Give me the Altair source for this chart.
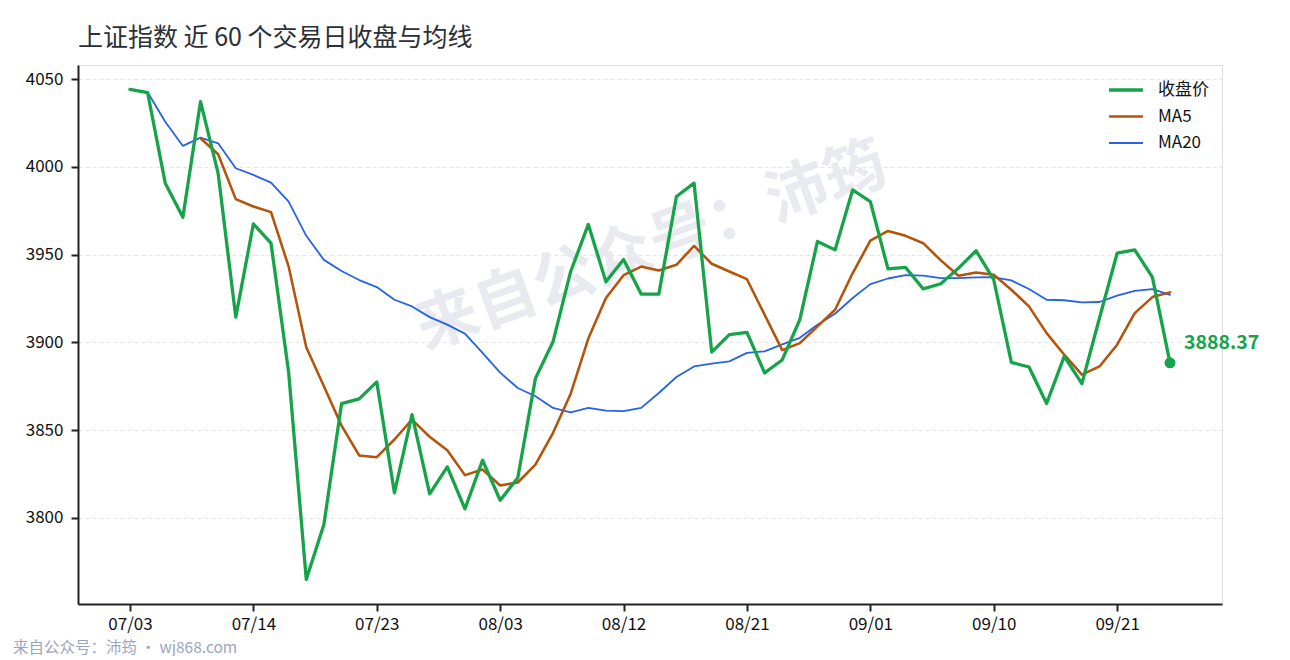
import altair as alt
import pandas as pd

# ---- data ----
tick_labels = ["07/03", "07/14", "07/23", "08/03", "08/12", "08/21", "09/01", "09/10", "09/21"]

close = [4044.1, 4042.2, 3990.7, 3971.3, 4037.1, 3996.3, 3914.4, 3967.5, 3956.5, 3883.0,
         3765.0, 3796.3, 3865.1, 3867.8, 3877.5, 3814.3, 3858.9, 3813.7, 3829.1, 3805.2,
         3832.9, 3810.1, 3822.9, 3879.5, 3900.4, 3940.4, 3967.2, 3934.5, 3947.2, 3927.5,
         3927.5, 3983.1, 3990.7, 3894.5, 3904.4, 3905.7, 3882.6, 3890.0, 3913.0, 3957.5,
         3952.7, 3986.9, 3980.2, 3941.9, 3942.7, 3930.5, 3933.4, 3942.3, 3952.2, 3935.7,
         3888.6, 3886.0, 3865.2, 3892.0, 3876.5, 3913.9, 3950.8, 3952.7, 3937.2, 3888.37]

ma5 = [None, None, None, None, 4016.3, 4007.2, 3981.6, 3977.4, 3974.2, 3943.2,
       3897.2, 3875.0, 3852.6, 3835.6, 3834.6, 3844.7, 3856.0, 3846.2, 3838.6, 3824.4,
       3827.6, 3818.5, 3820.2, 3830.4, 3848.5, 3870.8, 3902.2, 3925.3, 3938.3, 3943.2,
       3941.0, 3944.2, 3955.0, 3944.8, 3940.4, 3936.0, 3915.8, 3895.6, 3899.6, 3909.1,
       3918.6, 3939.5, 3958.0, 3963.5, 3960.7, 3956.5, 3946.7, 3938.0, 3939.8, 3938.5,
       3930.0, 3920.5, 3905.3, 3893.0, 3881.6, 3886.3, 3898.7, 3916.7, 3925.8, 3928.5]

ma20 = [4044.0, 4042.5, 4025.7, 4011.9, 4016.6, 4013.4, 3999.2, 3995.4, 3991.0, 3980.2,
        3960.7, 3947.0, 3940.7, 3935.5, 3931.5, 3924.3, 3920.5, 3914.4, 3910.1, 3905.0,
        3894.0, 3882.8, 3874.0, 3869.3, 3862.7, 3860.2, 3862.7, 3861.1, 3860.8, 3862.7,
        3871.2, 3880.3, 3886.3, 3887.9, 3889.2, 3894.0, 3894.9, 3898.9, 3902.6, 3910.1,
        3916.3, 3925.3, 3933.2, 3936.4, 3938.3, 3938.0, 3936.6, 3936.6, 3937.0, 3937.1,
        3935.3, 3930.4, 3924.3, 3924.0, 3922.8, 3923.0, 3926.6, 3929.4, 3930.4, 3927.1]

y_ticks = [3800, 3850, 3900, 3950, 4000, 4050]

series_names = ["收盘价", "MA5", "MA20"]
series_colors = ["#16a34a", "#b45309", "#2563eb"]
series_widths = [3.3, 1.8, 1.8]

n = len(close)
idx = list(range(n))
df = pd.DataFrame({
    "idx": idx * 3,
    "series": [series_names[0]] * n + [series_names[1]] * n + [series_names[2]] * n,
    "value": close + ma5 + ma20,
}).dropna()

last_df = pd.DataFrame({"idx": [idx[-1]], "value": [close[-1]], "label": [f"{close[-1]:.2f}"]})

FONT = "Noto Sans CJK SC"
label_expr = "[" + ",".join(f"'{t}'" for t in tick_labels) + "][round(datum.value/7)]"

x_enc = alt.X("idx:Q",
              scale=alt.Scale(domain=[-2.95, 61.95], nice=False, zero=False),
              axis=alt.Axis(values=[i * 7 for i in range(len(tick_labels))],
                            labelExpr=label_expr, title=None, grid=False,
                            labelFontSize=17, labelColor="#111", labelPadding=5,
                            labelFont=FONT,
                            tickSize=7, tickWidth=2, tickColor="#222",
                            domainColor="#222", domainWidth=2))
y_enc = alt.Y("value:Q",
              scale=alt.Scale(domain=[3751, 4058], nice=False, zero=False),
              axis=alt.Axis(values=y_ticks, format="d", title=None,
                            grid=True, gridColor="#dddddd", gridDash=[4, 3], gridWidth=0.8,
                            labelFontSize=17, labelColor="#111", labelPadding=8,
                            labelFont=FONT,
                            tickSize=7, tickWidth=2, tickColor="#222",
                            domainColor="#222", domainWidth=2))

color_scale = alt.Scale(domain=series_names, range=series_colors)
width_scale = alt.Scale(domain=series_names, range=series_widths)


def make_legend():
    return alt.Legend(title=None, orient="none", legendX=1029, legendY=6,
                      symbolType="stroke", symbolSize=1156, rowPadding=0,
                      labelFontSize=17, labelFont=FONT, labelColor="#111",
                      labelOffset=13)


base = alt.Chart(df)


def line_layer(name):
    return base.transform_filter(alt.datum.series == name).mark_line(
        strokeJoin="round", strokeCap="round").encode(
        x=x_enc, y=y_enc,
        color=alt.Color("series:N", scale=color_scale, legend=make_legend()),
        strokeWidth=alt.StrokeWidth("series:N", scale=width_scale, legend=make_legend()),
    )


watermark = alt.Chart(pd.DataFrame({"t": ["来自公众号：沛筠"]})).mark_text(
    font=FONT, fontSize=62, fontWeight="bold", color="#e8eaef", angle=340,
    align="center", baseline="middle").encode(
    text="t:N", x=alt.value(574), y=alt.value(182))

footer = alt.Chart(pd.DataFrame({"t": ["来自公众号：沛筠 · wj868.com"]})).mark_text(
    font=FONT, fontSize=15.5, color="#9aa6bd", align="left", baseline="middle").encode(
    text="t:N", x=alt.value(-65), y=alt.value(583))

dot = alt.Chart(last_df).mark_point(filled=True, size=120, color="#16a34a", opacity=1).encode(
    x=x_enc, y=y_enc)

label = alt.Chart(last_df).mark_text(
    font=FONT, fontSize=19.5, fontWeight="bold", color="#16a34a",
    align="left", baseline="middle", dx=14, dy=-20).encode(
    x=x_enc, y=y_enc, text="label:N")

chart = alt.layer(
    watermark,
    line_layer("MA20"), line_layer("MA5"), line_layer("收盘价"),
    dot, label, footer,
).properties(
    width=1144, height=539,
    title=alt.TitleParams("上证指数 近 60 个交易日收盘与均线", anchor="start", frame="group",
                          font=FONT, fontSize=25, fontWeight="normal",
                          color="#2b2f36", offset=14),
    autosize=alt.AutoSizeParams(type="none"),
    padding={"left": 70, "top": 57, "right": 60, "bottom": 52},
).configure_view(stroke=None).configure(background="white")

chart.save("out.html", embed_options={"renderer": "svg", "actions": False})
